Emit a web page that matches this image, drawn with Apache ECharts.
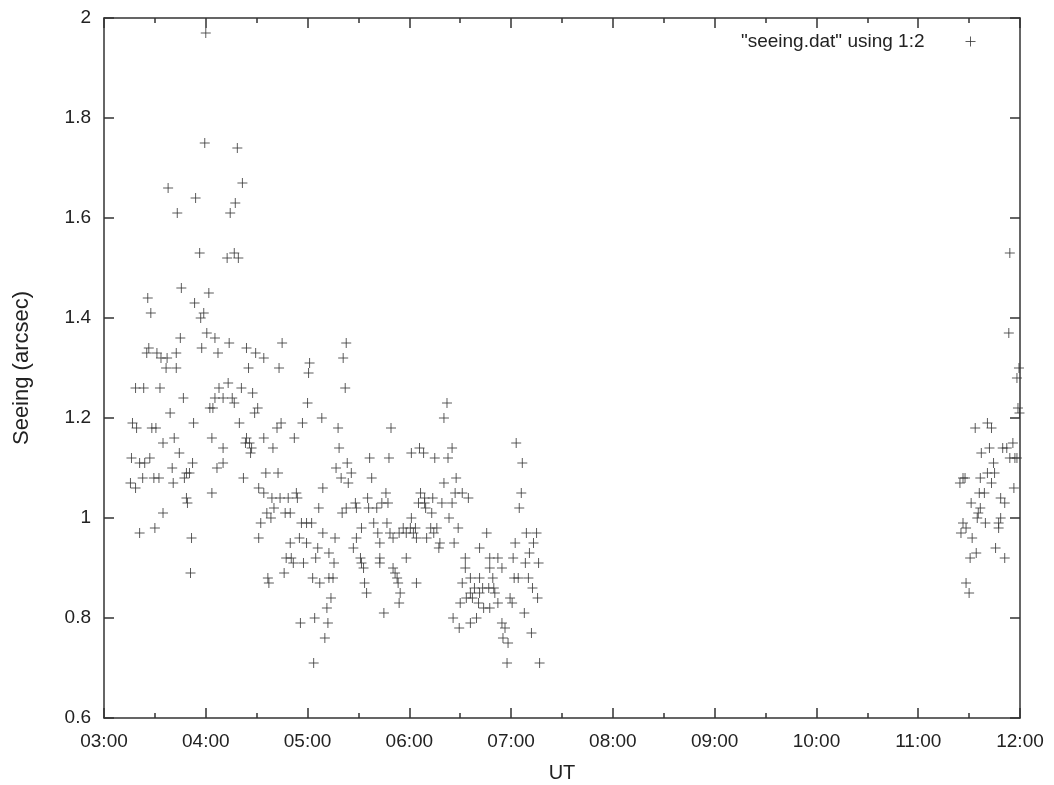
<!DOCTYPE html>
<html>
<head>
<meta charset="utf-8">
<script src="https://cdn.jsdelivr.net/npm/echarts@6/dist/echarts.min.js"></script>
<style>
html,body{margin:0;padding:0;background:#fff;}
#chart{width:1054px;height:785px;}
</style>
</head>
<body>
<div id="chart"></div>
<script>
// UT (decimal hours) and seeing (arcsec)
var utHours=[
4.00,3.99,4.31,3.63,4.36,3.90,4.29,3.72,4.24,3.94,4.28,4.21,4.32,
3.76,3.43,4.03,3.46,3.89,3.98,3.95,3.75,4.01,4.09,4.23,4.75,3.44,3.42,3.52,3.56,3.62,3.71,3.96,4.12,4.40,4.49,4.57,
3.61,3.71,4.42,4.72,5.02,5.01,5.38,5.35,5.37,3.31,3.39,3.55,3.78,4.13,4.22,4.35,4.09,4.17,4.26,4.28,4.46,4.04,4.07,4.51,4.48,5.00,3.65,
3.28,3.32,3.47,3.51,3.88,4.33,4.70,4.74,4.95,5.14,5.30,3.58,3.69,4.06,4.40,4.39,4.43,4.57,4.87,3.74,4.17,4.45,4.44,4.66,5.31,
3.27,3.35,3.40,3.45,3.87,3.67,4.11,4.17,3.81,3.84,4.37,4.59,4.71,5.28,5.39,3.26,3.31,3.38,3.49,3.54,3.68,3.79,4.06,4.52,4.57,5.15,5.33,5.40,
3.81,4.65,4.73,4.81,4.89,3.82,3.58,3.35,3.50,3.86,3.85,4.90,4.67,4.60,4.64,4.78,4.83,4.54,4.94,4.99,5.04,5.11,5.34,5.38,
4.52,4.83,4.92,4.99,5.15,5.27,5.10,5.21,4.79,4.84,4.86,4.96,5.08,5.26,4.77,4.61,4.62,5.05,5.12,5.21,5.25,5.23,5.19,4.93,5.07,5.20,5.17,5.06,
5.82,6.37,6.34,5.61,5.80,6.02,6.10,6.14,6.25,6.38,6.42,7.05,7.11,5.43,5.63,6.34,6.46,7.10,
5.77,5.59,6.11,6.15,6.23,6.45,6.52,6.58,5.47,5.48,5.60,5.68,5.73,5.79,6.09,6.15,6.16,6.32,6.42,7.08,
5.65,5.78,6.02,6.22,6.39,5.53,5.94,6.01,6.06,6.27,5.90,5.97,6.04,6.21,6.24,5.69,5.81,6.48,6.76,7.15,7.25,
5.48,5.71,5.84,6.07,6.17,6.30,6.44,7.04,7.22,5.45,6.69,6.29,7.18,5.52,5.71,5.97,6.55,6.79,6.87,7.02,7.14,7.27,
5.53,5.71,5.84,6.55,6.79,6.91,5.86,5.88,5.55,6.60,6.69,6.82,7.03,7.07,7.17,5.56,5.89,6.07,6.52,6.64,6.72,6.78,6.83,7.21,
5.58,5.91,6.60,6.69,6.84,6.99,7.26,6.56,6.62,6.50,6.68,6.73,6.87,7.01,6.79,7.13,5.75,5.90,
6.43,6.49,6.60,6.66,6.91,6.94,6.92,6.97,7.20,6.96,7.28,
11.90,11.89,11.99,11.97,11.98,11.995,11.56,11.68,11.72,11.93,11.62,11.70,11.83,11.87,11.90,11.95,11.97,11.74,
11.68,11.75,11.44,11.41,11.46,11.61,11.72,11.94,11.60,11.65,11.81,11.85,11.52,11.61,11.59,11.58,11.66,11.81,
11.79,11.79,11.44,11.47,11.42,11.53,11.76,11.85,11.57,11.51,11.47,11.50
];
var seeing=[
1.97,1.75,1.74,1.66,1.67,1.64,1.63,1.61,1.61,1.53,1.53,1.52,1.52,
1.46,1.44,1.45,1.41,1.43,1.41,1.40,1.36,1.37,1.36,1.35,1.35,1.34,1.33,1.33,1.32,1.32,1.33,1.34,1.33,1.34,1.33,1.32,
1.30,1.30,1.30,1.30,1.31,1.29,1.35,1.32,1.26,1.26,1.26,1.26,1.24,1.26,1.27,1.26,1.24,1.24,1.24,1.23,1.25,1.22,1.22,1.22,1.21,1.23,1.21,
1.19,1.18,1.18,1.18,1.19,1.19,1.18,1.19,1.19,1.20,1.18,1.15,1.16,1.16,1.16,1.15,1.15,1.16,1.16,1.13,1.14,1.14,1.13,1.14,1.14,
1.12,1.11,1.11,1.12,1.11,1.10,1.10,1.11,1.09,1.09,1.08,1.09,1.09,1.10,1.11,1.07,1.06,1.08,1.08,1.08,1.07,1.08,1.05,1.06,1.05,1.06,1.08,1.07,
1.04,1.04,1.04,1.04,1.05,1.03,1.01,0.97,0.98,0.96,0.89,1.04,1.02,1.01,1.00,1.01,1.01,0.99,0.99,0.99,0.99,1.02,1.01,1.02,
0.96,0.95,0.96,0.95,0.97,0.96,0.94,0.93,0.92,0.92,0.91,0.91,0.92,0.91,0.89,0.88,0.87,0.88,0.87,0.88,0.88,0.84,0.82,0.79,0.80,0.79,0.76,0.71,
1.18,1.23,1.20,1.12,1.12,1.13,1.14,1.13,1.12,1.12,1.14,1.15,1.11,1.09,1.08,1.07,1.08,1.05,
1.05,1.04,1.05,1.04,1.04,1.05,1.05,1.04,1.03,1.02,1.02,1.02,1.03,1.03,1.03,1.03,1.02,1.03,1.03,1.02,
0.99,0.99,1.00,1.01,1.00,0.98,0.98,0.98,0.98,0.98,0.97,0.97,0.97,0.98,0.97,0.97,0.97,0.98,0.97,0.97,0.97,
0.96,0.95,0.96,0.96,0.96,0.95,0.95,0.95,0.95,0.94,0.94,0.94,0.93,0.92,0.92,0.92,0.92,0.92,0.92,0.92,0.91,0.91,
0.91,0.91,0.90,0.90,0.90,0.90,0.89,0.88,0.90,0.88,0.88,0.88,0.88,0.88,0.88,0.87,0.87,0.87,0.87,0.86,0.86,0.86,0.86,0.86,
0.85,0.85,0.85,0.85,0.85,0.84,0.84,0.84,0.84,0.83,0.83,0.82,0.83,0.83,0.82,0.81,0.81,0.83,
0.80,0.78,0.79,0.80,0.79,0.78,0.76,0.75,0.77,0.71,0.71,
1.53,1.37,1.30,1.28,1.22,1.21,1.18,1.19,1.18,1.15,1.13,1.14,1.14,1.14,1.12,1.12,1.12,1.11,
1.09,1.09,1.08,1.07,1.08,1.08,1.07,1.06,1.05,1.05,1.04,1.03,1.03,1.02,1.01,1.00,0.99,1.00,
0.99,0.98,0.99,0.98,0.97,0.96,0.94,0.92,0.93,0.92,0.87,0.85
];
var xTicks=['03:00','04:00','05:00','06:00','07:00','08:00','09:00','10:00','11:00','12:00'];
var seriesName='"seeing.dat" using 1:2';

var plus='path://M0,5L10,5M5,0L5,10';
var ink='#333',font='"Liberation Sans",Arial,sans-serif';
var pts=utHours.map(function(u,i){return [u,seeing[i]];});

function xAxisOf(pos,lab){
	return {type:'value',position:pos,min:3,max:12,interval:1,
		axisLine:{show:true,onZero:false,lineStyle:{color:ink,width:1.5}},
		axisTick:{show:true,inside:true,length:10,lineStyle:{color:ink,width:1.5}},
		minorTick:{show:true,splitNumber:2,length:5,lineStyle:{color:ink,width:1.5}},
		splitLine:{show:false},
		axisLabel:{show:lab,margin:14,color:'#222',fontSize:19,fontFamily:font,
			formatter:function(v){return xTicks[Math.round(v)-3];}},
		name:lab?'UT':'',nameLocation:'middle',nameGap:45,
		nameTextStyle:{color:'#222',fontSize:20,fontFamily:font}
	};
}
function yAxisOf(pos,lab){
	return {type:'value',position:pos,min:0.6,max:2,interval:0.2,
		axisLine:{show:true,onZero:false,lineStyle:{color:ink,width:1.5}},
		axisTick:{show:true,inside:true,length:10,lineStyle:{color:ink,width:1.5}},
		splitLine:{show:false},
		axisLabel:{show:lab,margin:13,color:'#222',fontSize:19,fontFamily:font},
		name:lab?'Seeing (arcsec)':'',nameLocation:'middle',nameGap:71,
		nameTextStyle:{color:'#222',fontSize:22,fontFamily:font}
	};
}

var chart=echarts.init(document.getElementById('chart'),null,{renderer:'canvas'});
chart.setOption({
	backgroundColor:'#fff',
	animation:false,
	grid:{left:104,right:34,top:18,bottom:67,containLabel:false,outerBoundsMode:'none'},
	xAxis:[xAxisOf('bottom',true),xAxisOf('top',false)],
	yAxis:[yAxisOf('left',true),yAxisOf('right',false)],
	legend:{
		data:[seriesName],right:71,top:27,align:'right',
		itemWidth:76,itemHeight:10,
		icon:plus,
		itemStyle:{color:'none',borderColor:ink,borderWidth:1},
		textStyle:{color:'#222',fontSize:19,fontFamily:font,padding:[0,3,0,0]}
	},
	series:[{
		name:seriesName,type:'scatter',data:pts,
		symbol:plus,symbolSize:10,
		itemStyle:{color:'none',borderColor:'#333',borderWidth:1},
		emphasis:{disabled:true},silent:true
	}]
});
</script>
</body>
</html>
